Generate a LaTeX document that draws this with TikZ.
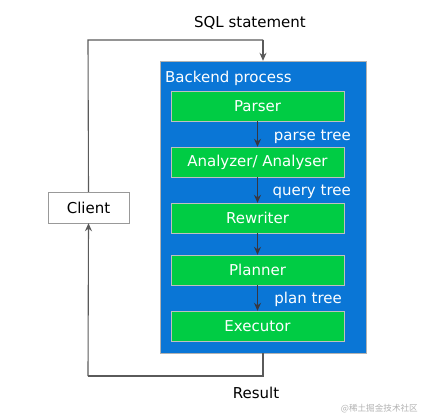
\documentclass[tikz,border=0pt]{standalone}
\usepackage{fontspec}
\setmainfont{DejaVu Sans}
\newfontfamily\cjk{Noto Sans CJK SC}
\usetikzlibrary{arrows.meta}
\definecolor{bpblue}{RGB}{10,118,214}
\definecolor{stgreen}{RGB}{0,204,68}
\definecolor{linegray}{RGB}{90,90,90}
\definecolor{arrdark}{RGB}{55,55,65}
\tikzset{
  stage/.style={draw=black!25, fill=stgreen, text=white, minimum width=173pt, minimum height=30pt, inner sep=0pt, font=\fontsize{15}{17}\selectfont},
  flow/.style={draw=arrdark, line width=1pt, -{Stealth[length=8pt,width=7pt]}},
  outflow/.style={draw=linegray, line width=1.1pt, -{Stealth[length=8pt,width=7pt]}},
  wire/.style={draw=linegray, line width=1.1pt},
  lbl/.style={text=white, inner sep=0pt, font=\fontsize{15}{17}\selectfont},
  outl/.style={text=black, inner sep=0pt, font=\fontsize{15}{17}\selectfont}
}
\begin{document}
\begin{tikzpicture}[x=1pt,y=-1pt]
\useasboundingbox (0,0) rectangle (422,417);
\node[draw=black!30, fill=bpblue, minimum width=206pt, minimum height=292pt, inner sep=0pt] (bp) at (263,207) {};
\node[lbl, anchor=west] (bptitle) at (165,78) {Backend process};
\node[stage] (parser) at (257.5,106) {Parser};
\node[stage] (analyzer) at (257.5,162) {Analyzer/ Analyser};
\node[stage] (rewriter) at (257.5,218) {Rewriter};
\node[stage] (planner) at (257.5,270) {Planner};
\node[stage] (executor) at (257.5,326) {Executor};
\node[draw=black!40, fill=white, minimum width=81pt, minimum height=31pt, inner sep=0pt, font=\fontsize{15}{17}\selectfont] (client) at (88.5,207.5) {Client};
\draw[flow] (parser.south) -- (analyzer.north);
\draw[flow] (analyzer.south) -- (rewriter.north);
\draw[flow] (rewriter.south) -- (planner.north);
\draw[flow] (planner.south) -- (executor.north);
\node[lbl, anchor=east] (pt) at (351,137) {parse tree};
\node[lbl, anchor=east] (qt) at (351,192) {query tree};
\node[lbl, anchor=east] (plt) at (342,299) {plan tree};
\coordinate (tl) at (88,40);
\coordinate (tr) at (263,40);
\coordinate (bl) at (88,376);
\coordinate (br) at (263,376);
\draw[wire] (client.north) -- (tl) -- (tr);
\draw[outflow] (tr) -- (bp.north);
\draw[wire] (bp.south) -- (br) -- (bl);
\draw[outflow] (bl) -- (client.south);
\node[outl] (sql) at (250,23) {SQL statement};
\node[outl] (res) at (256,393) {Result};
\node[text=black!30, inner sep=0pt, font=\cjk\fontsize{8.6}{10}\selectfont, anchor=east] (wm) at (418,409) {@稀土掘金技术社区};
\end{tikzpicture}
\end{document}
